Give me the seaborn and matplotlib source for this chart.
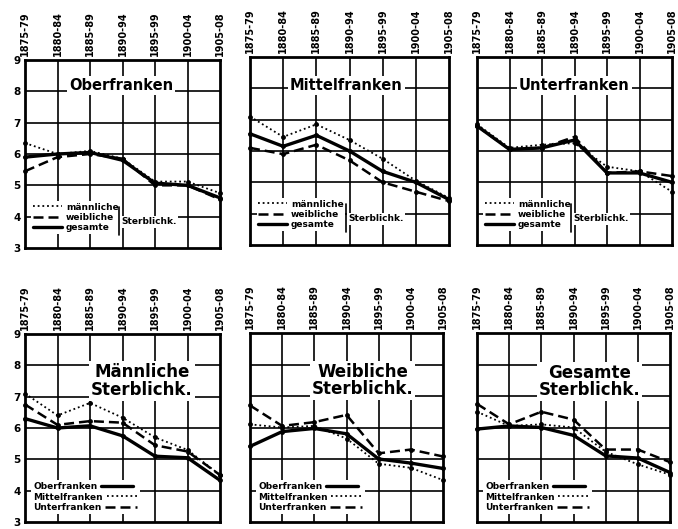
import matplotlib
matplotlib.use("Agg")
import matplotlib.pyplot as plt
import seaborn as sns
from matplotlib.lines import Line2D

# Zeiträume (x-Achse)
periods = ["1875-79", "1880-84", "1885-89", "1890-94", "1895-99", "1900-04", "1905-08"]

# Obere Reihe: Sterblichkeit je Regierungsbezirk
ober_maennl = [6.35, 6.0, 6.1, 5.85, 5.12, 5.12, 4.75]
ober_weibl = [5.45, 5.9, 6.0, 5.85, 5.0, 5.0, 4.55]
ober_ges = [5.9, 6.0, 6.05, 5.8, 5.07, 5.0, 4.6]

mittel_maennl = [7.1, 6.45, 6.85, 6.35, 5.75, 5.05, 4.5]
mittel_weibl = [6.1, 5.9, 6.2, 5.7, 5.0, 4.7, 4.4]
mittel_ges = [6.55, 6.15, 6.5, 6.0, 5.35, 5.0, 4.45]

unter_maennl = [6.85, 6.1, 6.2, 6.25, 5.5, 5.35, 4.7]
unter_weibl = [6.8, 6.05, 6.1, 6.45, 5.3, 5.35, 5.2]
unter_ges = [6.8, 6.05, 6.1, 6.35, 5.3, 5.3, 5.0]

# Untere Reihe: Sterblichkeit je Geschlecht
m_ober = [6.3, 6.0, 6.07, 5.75, 5.1, 5.05, 4.33]
m_mittel = [7.1, 6.4, 6.8, 6.33, 5.7, 5.3, 4.5]
m_unter = [6.75, 6.1, 6.22, 6.17, 5.45, 5.25, 4.5]

w_ober = [5.4, 5.87, 5.97, 5.8, 5.0, 4.87, 4.7]
w_mittel = [6.1, 6.0, 6.05, 5.65, 4.85, 4.72, 4.33]
w_unter = [6.7, 6.05, 6.17, 6.4, 5.18, 5.3, 5.08]

g_ober = [5.95, 6.05, 6.0, 5.75, 5.1, 5.03, 4.57]
g_mittel = [6.5, 6.05, 6.1, 6.0, 5.23, 4.83, 4.5]
g_unter = [6.75, 6.1, 6.5, 6.25, 5.3, 5.3, 4.9]

sex_labels = ["männliche", "weibliche", "gesamte"]
region_labels = ["Oberfranken", "Mittelfranken", "Unterfranken"]

sns.set_style("white")
plt.rcParams["font.family"] = ["DejaVu Sans"]
plt.rcParams["text.color"] = "black"
plt.rcParams["xtick.color"] = "black"
plt.rcParams["ytick.color"] = "black"

styles = {
    "solid": dict(linestyle="-", linewidth=2.4),
    "dashed": dict(linestyle=(0, (4, 2)), linewidth=1.8),
    "dotted": dict(linestyle=(0, (1, 1.6)), linewidth=1.3),
}

fig = plt.figure(figsize=(6.78, 5.29), dpi=100)
W, H = 678, 529


def make_ax(left, top, right, bottom):
    return fig.add_axes([left / W, 1 - bottom / H, (right - left) / W, (bottom - top) / H])


def setup(ax, show_y):
    ax.set_xlim(0, 6)
    ax.set_ylim(3, 9)
    ax.set_xticks(range(7))
    ax.set_xticklabels(periods, rotation=90, fontsize=7, fontweight="bold")
    ax.xaxis.tick_top()
    ax.set_yticks(range(3, 10))
    if show_y:
        ax.set_yticklabels([str(v) for v in range(3, 10)], fontsize=7.5, fontweight="bold")
    else:
        ax.set_yticklabels([])
    ax.tick_params(length=0, pad=3, colors="black")
    for y in range(4, 9):
        ax.axhline(y, color="black", lw=1.2, zorder=0)
    for x in range(1, 6):
        ax.axvline(x, color="black", lw=1.2, zorder=0)
    for s in ax.spines.values():
        s.set_linewidth(2)
        s.set_color("black")
    ax.set_xlabel("")
    ax.set_ylabel("")


def draw(ax, series, style_keys):
    for vals, key in zip(series, style_keys):
        sns.lineplot(x=list(range(7)), y=vals, ax=ax, color="black",
                     marker="o", markersize=3.5, markeredgewidth=0,
                     clip_on=False, zorder=3, **styles[key])


top_panels = [
    ("Oberfranken", [ober_maennl, ober_weibl, ober_ges], (25, 60, 220, 248), True, (2.95, 8.2)),
    ("Mittelfranken", [mittel_maennl, mittel_weibl, mittel_ges], (250, 57, 449, 245), False, (2.9, 8.1)),
    ("Unterfranken", [unter_maennl, unter_weibl, unter_ges], (477, 57, 672, 245), False, (3.0, 8.1)),
]
top_styles = ["dotted", "dashed", "solid"]

for title, series, box, show_y, tpos in top_panels:
    ax = make_ax(*box)
    setup(ax, show_y)
    draw(ax, series, top_styles)
    ax.text(tpos[0], tpos[1], title, ha="center", va="center", fontsize=10.5,
            fontweight="bold", color="black", zorder=5,
            bbox=dict(facecolor="white", edgecolor="none", pad=1.5))
    handles = [Line2D([], [], color="black", **styles[k]) for k in top_styles]
    leg = ax.legend(handles, sex_labels, loc="lower left", bbox_to_anchor=(0.01, 0.05),
                    fontsize=6.5, handlelength=3.2, labelspacing=0.15, handletextpad=0.4,
                    borderpad=0.2, frameon=True, fancybox=False, framealpha=1,
                    labelcolor="black")
    leg.get_frame().set_edgecolor("none")
    leg.set_zorder(6)
    for t in leg.get_texts():
        t.set_fontweight("bold")
    ax.add_line(Line2D([0.48, 0.48], [0.07, 0.22], transform=ax.transAxes,
                       color="black", lw=1.2, zorder=7))
    ax.text(0.495, 0.14, "Sterblichk.", transform=ax.transAxes, ha="left", va="center",
            fontsize=6.5, fontweight="bold", color="black", zorder=7,
            bbox=dict(facecolor="white", edgecolor="none", pad=1))

bottom_panels = [
    ("Männliche\nSterblichk.", [m_ober, m_mittel, m_unter], (25, 334, 220, 522), True, (3.6, 7.5)),
    ("Weibliche\nSterblichk.", [w_ober, w_mittel, w_unter], (250, 333, 443, 522), False, (3.5, 7.5)),
    ("Gesamte\nSterblichk.", [g_ober, g_mittel, g_unter], (477, 333, 670, 522), False, (3.5, 7.45)),
]
bottom_styles = ["solid", "dotted", "dashed"]

for title, series, box, show_y, tpos in bottom_panels:
    ax = make_ax(*box)
    setup(ax, show_y)
    draw(ax, series, bottom_styles)
    ax.text(tpos[0], tpos[1], title, ha="center", va="center", fontsize=12,
            fontweight="bold", color="black", linespacing=0.95, zorder=5,
            bbox=dict(facecolor="white", edgecolor="none", pad=1.5))
    handles = [Line2D([], [], color="black", **styles[k]) for k in bottom_styles]
    leg = ax.legend(handles, region_labels, loc="lower left", bbox_to_anchor=(0.01, 0.02),
                    fontsize=6.5, handlelength=3.5, labelspacing=0.15, handletextpad=0.4,
                    borderpad=0.2, markerfirst=False, frameon=True, fancybox=False,
                    framealpha=1, labelcolor="black")
    # Beschriftung linksbündig, Linie direkt dahinter
    for col in leg._legend_handle_box.get_children():
        col.align = "left"
    leg.get_frame().set_edgecolor("none")
    leg.set_zorder(6)
    for t in leg.get_texts():
        t.set_fontweight("bold")

fig.savefig("out.png", dpi=100, facecolor="white")
